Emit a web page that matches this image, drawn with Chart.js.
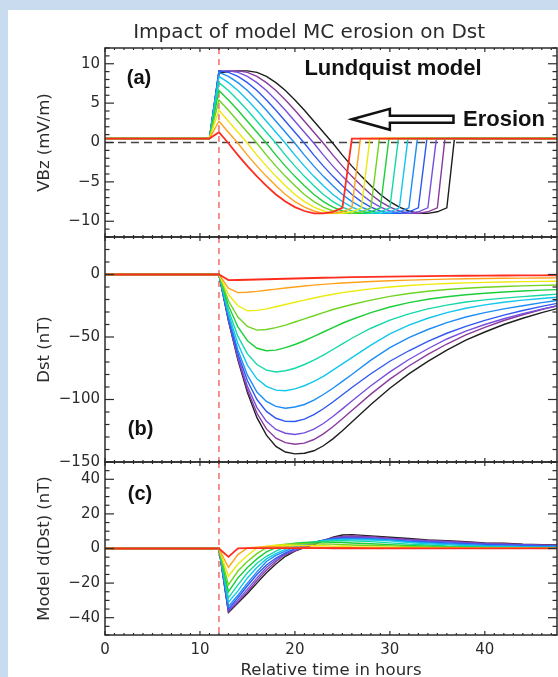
<!DOCTYPE html>
<html>
<head>
<meta charset="utf-8">
<script src="https://cdn.jsdelivr.net/npm/chart.js@4/dist/chart.umd.min.js"></script>
<style>
  html, body { margin: 0; padding: 0; }
  body { width: 558px; height: 677px; background: #c9dcef; position: relative; overflow: hidden; }
  #sheet { position: absolute; left: 8px; top: 10px; right: 0; bottom: 0; background: #fff; }
  canvas { position: absolute; left: 0; top: 0; }
</style>
</head>
<body>
<div id="sheet"></div>
<canvas id="panelA" width="558" height="677"></canvas>
<canvas id="panelB" width="558" height="677"></canvas>
<canvas id="panelC" width="558" height="677"></canvas>
<script>
// ---- data ----
// 12 model runs: full cloud (black) then growing erosion up to red
const curveColors = ['#1e1e1e', '#8a3a9c', '#7650dc', '#2f58f2', '#1d8cf5', '#12c6ec',
                     '#14d9a6', '#1ccf3a', '#6fd420', '#ecea10', '#ffa21a', '#ff2d1e']
const onsetHour = 12

// panel (a): VBz, one value per hour starting at vbzFirstHour, then back to quiet level at vbzEnd
const vbzQuiet = 0.5
const vbzRampStart = 11
const vbzFirstHour = 12
const vbzEnd = [36.8, 35.8, 34.9, 33.9, 32.9, 31.9, 30.9, 29.9, 28.9, 27.9, 26.9, 26.0]
const vbzRows = [
    [8.8, 9.0, 9.1, 9.1, 8.9, 8.4, 7.6, 6.6, 5.4, 4.1, 2.7, 1.3, -0.1, -1.6, -3.0, -4.3, -5.5, -6.6, -7.5, -8.2, -8.7, -9.0, -9.0, -8.8, -8.3],
    [9.0, 9.1, 9.1, 8.9, 8.4, 7.6, 6.6, 5.4, 4.1, 2.7, 1.3, -0.1, -1.6, -3.0, -4.3, -5.5, -6.6, -7.5, -8.2, -8.7, -9.0, -9.0, -8.8, -8.3],
    [9.1, 9.1, 8.9, 8.4, 7.6, 6.6, 5.4, 4.1, 2.7, 1.3, -0.1, -1.6, -3.0, -4.3, -5.5, -6.6, -7.5, -8.2, -8.7, -9.0, -9.0, -8.8, -8.3],
    [9.1, 8.9, 8.4, 7.6, 6.6, 5.4, 4.1, 2.7, 1.3, -0.1, -1.6, -3.0, -4.3, -5.5, -6.6, -7.5, -8.2, -8.7, -9.0, -9.0, -8.8, -8.3],
    [8.9, 8.4, 7.6, 6.6, 5.4, 4.1, 2.7, 1.3, -0.1, -1.6, -3.0, -4.3, -5.5, -6.6, -7.5, -8.2, -8.7, -9.0, -9.0, -8.8, -8.3],
    [8.4, 7.6, 6.6, 5.4, 4.1, 2.7, 1.3, -0.1, -1.6, -3.0, -4.3, -5.5, -6.6, -7.5, -8.2, -8.7, -9.0, -9.0, -8.8, -8.3],
    [7.6, 6.6, 5.4, 4.1, 2.7, 1.3, -0.1, -1.6, -3.0, -4.3, -5.5, -6.6, -7.5, -8.2, -8.7, -9.0, -9.0, -8.8, -8.3],
    [6.6, 5.4, 4.1, 2.7, 1.3, -0.1, -1.6, -3.0, -4.3, -5.5, -6.6, -7.5, -8.2, -8.7, -9.0, -9.0, -8.8, -8.3],
    [5.4, 4.1, 2.7, 1.3, -0.1, -1.6, -3.0, -4.3, -5.5, -6.6, -7.5, -8.2, -8.7, -9.0, -9.0, -8.8, -8.3],
    [4.1, 2.7, 1.3, -0.1, -1.6, -3.0, -4.3, -5.5, -6.6, -7.5, -8.2, -8.7, -9.0, -9.0, -8.8, -8.3],
    [2.7, 1.3, -0.1, -1.6, -3.0, -4.3, -5.5, -6.6, -7.5, -8.2, -8.7, -9.0, -9.0, -8.8, -8.3],
    [1.3, -0.1, -1.6, -3.0, -4.3, -5.5, -6.6, -7.5, -8.2, -8.7, -9.0, -9.0, -8.8, -8.3],
]

// panels (b) and (c) share this time grid
const hours = [0, 12, 13, 14, 15, 16, 17, 18, 19, 20, 21, 22, 23, 24, 25, 26, 28, 30, 32, 34, 36, 38, 40, 42, 44, 46, 48]
const dstRows = [
    [0, 0, -37, -68.5, -94.5, -114.5, -128.5, -137.5, -142, -143.5, -143, -141, -137, -131.5, -125, -118, -104, -91, -79.5, -69.5, -60.5, -52.5, -46, -40, -35, -30.5, -26.5],
    [0, 0, -36.5, -67.5, -92.5, -111, -123.5, -131, -134.5, -135.8, -134.9, -132, -127.5, -121.8, -115.4, -108.8, -95.7, -83.7, -73.2, -63.9, -55.6, -48.3, -42.3, -36.8, -32.2, -28, -24.3],
    [0, 0, -36, -66, -89.5, -106.5, -117.5, -124, -127, -128, -126.7, -123.7, -119.2, -113.6, -107.5, -101.2, -89, -77.9, -68, -59.4, -51.6, -45.3, -40, -35.4, -31.3, -27.7, -24.5],
    [0, 0, -35, -63.5, -85, -100, -109.5, -115, -117.5, -117.6, -115.7, -112.1, -107.4, -102, -96.2, -90.4, -79.4, -69.4, -61, -53.5, -47, -41.5, -36.7, -32.5, -28.8, -25.5, -22.5],
    [0, 0, -33.5, -60.5, -80.5, -94, -101.5, -105.5, -107, -106, -104, -100.5, -96, -91, -85.5, -80, -68.5, -58.5, -50.5, -44, -38.5, -34, -30.5, -27.5, -25, -22.5, -20.3],
    [0, 0, -31, -55.5, -72.5, -83.5, -89.5, -92.5, -93, -91.5, -89, -85.5, -81.5, -76.5, -71.5, -66.5, -56.5, -47.5, -40.5, -35, -30.5, -27, -24.3, -22.2, -20.5, -19.2, -18],
    [0, 0, -28.5, -49.5, -63.5, -72, -76.5, -78, -77, -75, -72, -68.5, -64.5, -60, -55.5, -51, -43, -36.5, -31.5, -27.5, -24.5, -22, -20.3, -18.9, -17.7, -16.6, -15.5],
    [0, 0, -25, -42, -53, -59, -61, -60.5, -58.5, -56, -53, -49.5, -46, -42.5, -39, -36, -30.5, -26, -22.5, -19.8, -17.8, -16.2, -15, -14, -13.2, -12.5, -12],
    [0, 0, -21, -34, -41.5, -44.5, -44, -42.5, -40.5, -38, -35.5, -33, -30.5, -28, -26, -24, -20.5, -17.5, -15.2, -13.4, -12, -11, -10.2, -9.6, -9.1, -8.7, -8.3],
    [0, 0, -16, -25, -29, -28.7, -27.5, -25.8, -24, -22.2, -20.5, -18.8, -17.2, -15.8, -14.5, -13.4, -11.5, -10, -8.8, -7.9, -7.2, -6.7, -6.3, -6, -5.7, -5.5, -5.3],
    [0, 0, -11, -14.5, -14.2, -13.5, -12.6, -11.7, -10.8, -10, -9.2, -8.5, -7.9, -7.3, -6.8, -6.4, -5.6, -5, -4.5, -4.1, -3.7, -3.4, -3.2, -3, -2.9, -2.8, -2.7],
    [0, 0, -4.5, -4.4, -4.2, -4, -3.8, -3.6, -3.4, -3.2, -3, -2.8, -2.6, -2.45, -2.3, -2.15, -1.9, -1.65, -1.45, -1.3, -1.15, -1, -0.9, -0.8, -0.75, -0.7, -0.6],
]
const ddstRows = [
    [0, 0, -37, -31.5, -26, -20, -14, -9, -4.5, -1.5, 0.5, 2.2, 4.5, 6.5, 7.8, 8, 7.3, 6.5, 5.75, 5, 4.5, 4, 3.25, 3, 2.5, 2.25, 2],
    [0, 0, -36.5, -31, -25, -18.5, -12.5, -7.5, -3.5, -1.3, 0.9, 3, 4.8, 6.2, 7, 7.2, 6.8, 6, 5.25, 4.65, 4.15, 3.65, 3, 2.75, 2.3, 2.1, 1.85],
    [0, 0, -36, -30, -23.5, -17, -11, -6.5, -3, -1, 1.3, 3.2, 4.7, 5.8, 6.5, 6.6, 6.3, 5.55, 4.95, 4.3, 3.9, 3.15, 2.65, 2.3, 2.05, 1.8, 1.6],
    [0, 0, -35, -28.5, -21.5, -15, -9.5, -5.5, -2.5, -0.1, 1.9, 3.6, 4.8, 5.6, 6, 6, 5.6, 5, 4.2, 3.75, 3.25, 2.75, 2.4, 2.1, 1.85, 1.65, 1.5],
    [0, 0, -33.5, -27, -20, -13.5, -7.5, -4, -1.5, 1, 2.2, 3.6, 4.6, 5.2, 5.6, 5.6, 5.5, 5, 4, 3.25, 2.75, 2.25, 1.75, 1.5, 1.25, 1.25, 1.1],
    [0, 0, -31, -24.5, -17, -11, -6, -3, -0.5, 1.5, 2.7, 3.6, 4.3, 5, 5.1, 5, 4.9, 4.4, 3.5, 2.75, 2.25, 1.75, 1.35, 1.05, 0.85, 0.65, 0.6],
    [0, 0, -28.5, -21, -14, -8.5, -4.5, -1.5, 1, 2.2, 3.2, 3.8, 4.2, 4.5, 4.5, 4.4, 4, 3.25, 2.5, 2, 1.5, 1.25, 0.85, 0.7, 0.6, 0.55, 0.55],
    [0, 0, -25, -17, -11, -6, -2, 0.5, 2.2, 3, 3.5, 3.7, 3.7, 3.6, 3.5, 3.2, 2.75, 2.25, 1.75, 1.35, 1, 0.8, 0.6, 0.5, 0.4, 0.35, 0.25],
    [0, 0, -21, -13, -7.5, -3, 0.5, 1.8, 2.5, 2.8, 2.8, 2.7, 2.6, 2.5, 2.2, 2, 1.75, 1.5, 1.15, 0.9, 0.7, 0.5, 0.4, 0.3, 0.25, 0.2, 0.2],
    [0, 0, -16, -9, -4, 0.3, 1.4, 1.9, 2, 1.9, 1.8, 1.7, 1.6, 1.4, 1.3, 1.1, 0.95, 0.75, 0.6, 0.45, 0.35, 0.25, 0.2, 0.15, 0.15, 0.1, 0.1],
    [0, 0, -11, -3.5, 0.3, 0.8, 1, 1, 0.9, 0.8, 0.8, 0.7, 0.6, 0.6, 0.5, 0.4, 0.4, 0.3, 0.25, 0.2, 0.2, 0.15, 0.1, 0.1, 0.05, 0.05, 0.05],
    [0, 0, -4.8, 0.1, 0.2, 0.2, 0.2, 0.2, 0.2, 0.2, 0.2, 0.2, 0.2, 0.15, 0.15, 0.15, 0.12, 0.12, 0.1, 0.08, 0.08, 0.07, 0.05, 0.05, 0.03, 0.03, 0.03],
]

const xTicks = [0, 10, 20, 30, 40]
const vbzTicks = [-10, -5, 0, 5, 10]
const dstTicks = [-150, -100, -50, 0]
const ddstTicks = [-40, -20, 0, 20, 40]

// ---- drawing ----
const INK = '#2b2b2b'
Chart.defaults.font.family = '"DejaVu Sans", sans-serif'
Chart.defaults.color = INK

const minusSign = v => String(v).replace('-', '\u2212')

function segment(ctx, x1, y1, x2, y2) {
    ctx.beginPath()
    ctx.moveTo(x1, y1)
    ctx.lineTo(x2, y2)
    ctx.stroke()
}

// IDL-like frame: box, inward major/minor ticks, dashed guides, panel labels
const framePlugin = {
    id: 'frame',
    beforeDatasetsDraw(chart, args, opts) {
        const {ctx, chartArea: a, scales: {x, y}} = chart
        ctx.save()
        ctx.lineWidth = 1.4
        if (opts.zeroLine) {
            ctx.strokeStyle = '#444'
            ctx.setLineDash([8, 5])
            const py = y.getPixelForValue(0)
            segment(ctx, a.left, py, a.right, py)
        }
        ctx.strokeStyle = '#f27676'
        ctx.lineWidth = 1.6
        ctx.setLineDash([6, 5])
        const px = x.getPixelForValue(onsetHour)
        segment(ctx, px, a.top, px, a.bottom)
        ctx.restore()
    },
    afterDatasetsDraw(chart, args, opts) {
        const {ctx, chartArea: a, scales: {x, y}} = chart
        ctx.save()
        ctx.strokeStyle = INK
        ctx.lineWidth = 1.5
        ctx.strokeRect(a.left, a.top, a.right - a.left, a.bottom - a.top)
        ctx.lineWidth = 1.2
        for (let i = 0; i <= Math.floor(x.max); i++) {
            const len = xTicks.includes(i) ? 4 : 2
            const px = x.getPixelForValue(i)
            segment(ctx, px, a.top, px, a.top + len)
            segment(ctx, px, a.bottom, px, a.bottom - len)
        }
        const first = Math.ceil(y.min / opts.yMinor)
        const last = Math.floor(y.max / opts.yMinor)
        for (let i = first; i <= last; i++) {
            const v = i * opts.yMinor
            const len = opts.yTicks.includes(v) ? 9 : 4.5
            const py = y.getPixelForValue(v)
            segment(ctx, a.left, py, a.left + len, py)
            segment(ctx, a.right, py, a.right - len, py)
        }
        ctx.restore()
    },
    afterDraw(chart, args, opts) {
        const {ctx, scales: {x, y}} = chart
        ctx.save()
        ctx.fillStyle = '#111'
        ctx.textBaseline = 'middle'
        ;(opts.labels || []).forEach(l => {
            ctx.font = l.font
            ctx.fillText(l.text, x.getPixelForValue(l.x), y.getPixelForValue(l.y))
        })
        if (opts.arrow) {
            const ar = opts.arrow
            const tip = x.getPixelForValue(ar.tip)
            const neck = x.getPixelForValue(ar.neck)
            const tail = x.getPixelForValue(ar.tail)
            const cy = y.getPixelForValue(ar.at)
            ctx.beginPath()
            ctx.moveTo(tip, cy)
            ctx.lineTo(neck, cy - 10.5)
            ctx.lineTo(neck, cy - 3.6)
            ctx.lineTo(tail, cy - 3.6)
            ctx.lineTo(tail, cy + 3.6)
            ctx.lineTo(neck, cy + 3.6)
            ctx.lineTo(neck, cy + 10.5)
            ctx.closePath()
            ctx.fillStyle = '#fff'
            ctx.fill()
            ctx.strokeStyle = '#111'
            ctx.lineWidth = 2.5
            ctx.lineJoin = 'miter'
            ctx.stroke()
        }
        if (opts.title) {
            ctx.font = '20px "DejaVu Sans"'
            ctx.fillStyle = INK
            ctx.textAlign = 'center'
            ctx.fillText(opts.title.text, x.getPixelForValue(opts.title.hour), opts.title.top)
        }
        ctx.restore()
    }
}

function makePanel(id, cfg) {
    const datasets = cfg.rows.map((row, k) => ({
        data: cfg.points(row, k),
        borderColor: curveColors[k],
        borderWidth: k === curveColors.length - 1 ? 1.8 : 1.4,
        pointRadius: 0,
        tension: 0,
        order: curveColors.length - k, // red ends up on top
    }))
    return new Chart(document.getElementById(id), {
        type: 'line',
        data: {datasets},
        options: {
            responsive: false,
            animation: false,
            devicePixelRatio: 1,
            events: [],
            layout: {padding: cfg.padding},
            plugins: {
                legend: {display: false},
                tooltip: {enabled: false},
                frame: cfg.frame,
            },
            scales: {
                x: {
                    type: 'linear',
                    min: 0,
                    max: 47.6,
                    display: cfg.showX,
                    grid: {display: false, drawTicks: false},
                    border: {display: false},
                    ticks: {font: {size: 15}, padding: 6, callback: minusSign},
                    afterBuildTicks: s => { s.ticks = xTicks.map(v => ({value: v})) },
                    afterFit: s => { s.height = cfg.showX ? 42 : 0 },
                    title: {
                        display: true,
                        text: 'Relative time in hours',
                        font: {size: 16.5, lineHeight: 0.8},
                        padding: 0,
                    },
                },
                y: {
                    type: 'linear',
                    position: 'left',
                    min: cfg.min,
                    max: cfg.max,
                    grid: {display: false, drawTicks: false},
                    border: {display: false},
                    ticks: {font: {size: 15}, padding: 5, callback: minusSign},
                    afterBuildTicks: s => { s.ticks = cfg.frame.yTicks.map(v => ({value: v})) },
                    afterFit: s => { s.width = 105 },
                    title: {
                        display: true,
                        text: cfg.yTitle,
                        font: {size: 16.5},
                        padding: {top: 35, bottom: 0},
                    },
                },
            },
        },
        plugins: [framePlugin],
    })
}

const gridPoints = row => hours.map((h, i) => ({x: h, y: row[i]}))

function vbzPoints(row, k) {
    const pts = [{x: 0, y: vbzQuiet}, {x: vbzRampStart, y: vbzQuiet}]
    row.forEach((v, i) => pts.push({x: vbzFirstHour + i, y: v}))
    pts.push({x: vbzEnd[k], y: vbzQuiet}, {x: 48, y: vbzQuiet})
    return pts
}

makePanel('panelA', {
    rows: vbzRows, points: vbzPoints, min: -12, max: 12, yTitle: 'VBz (mV/m)',
    showX: false, padding: {top: 48, bottom: 440, left: 0, right: 1},
    frame: {
        yTicks: vbzTicks, yMinor: 1, zeroLine: true,
        labels: [
            {text: '(a)', x: 2.3, y: 8.1, font: 'bold 20px "Liberation Sans"'},
            {text: 'Lundquist model', x: 21.0, y: 9.4, font: 'bold 22px "Liberation Sans"'},
            {text: 'Erosion', x: 37.7, y: 2.85, font: 'bold 22px "Liberation Sans"'},
        ],
        arrow: {tip: 26.0, neck: 30.0, tail: 36.7, at: 2.95},
        title: {text: 'Impact of model MC erosion on Dst', hour: 21.5, top: 33},
    },
})

makePanel('panelB', {
    rows: dstRows, points: gridPoints, min: -150, max: 30, yTitle: 'Dst (nT)',
    showX: false, padding: {top: 237, bottom: 215, left: 0, right: 1},
    frame: {
        yTicks: dstTicks, yMinor: 10,
        labels: [{text: '(b)', x: 2.4, y: -124, font: 'bold 20px "Liberation Sans"'}],
    },
})

makePanel('panelC', {
    rows: ddstRows, points: gridPoints, min: -50, max: 50, yTitle: 'Model d(Dst) (nT)',
    showX: true, padding: {top: 462, bottom: 0, left: 0, right: 1},
    frame: {
        yTicks: ddstTicks, yMinor: 5,
        labels: [{text: '(c)', x: 2.4, y: 31, font: 'bold 20px "Liberation Sans"'}],
    },
})
</script>
</body>
</html>
